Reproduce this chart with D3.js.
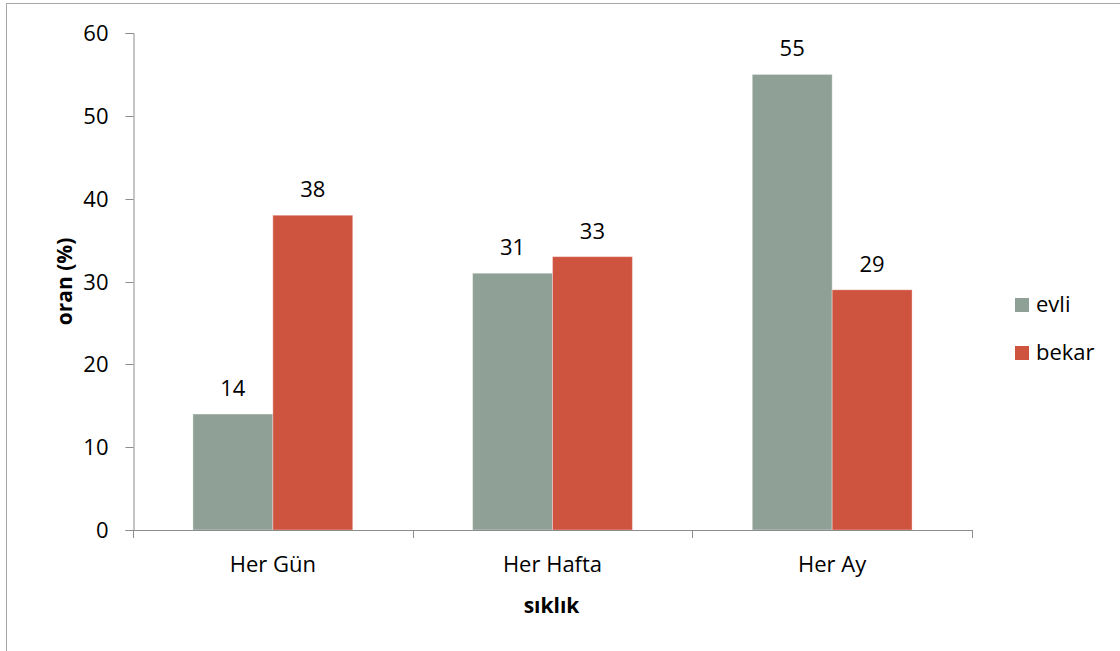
<!DOCTYPE html>
<html>
<head>
<meta charset="utf-8">
<script src="https://cdn.jsdelivr.net/npm/d3@7"></script>
<style>
  html, body { margin: 0; padding: 0; background: #fff; }
  svg { display: block; font-family: "Open Sans", "Noto Sans", sans-serif; }
</style>
</head>
<body>
<svg id="chart" width="1120" height="651"></svg>
<script>
// Frequency categories and the share (%) for each marital status
const categories = ["Her Gün", "Her Hafta", "Her Ay"];
const seriesNames = ["evli", "bekar"];
const evliValues = [14, 31, 55];
const bekarValues = [38, 33, 29];
const yTicks = [0, 10, 20, 30, 40, 50, 60];
const seriesColors = ["#8fa197", "#cf5440"];

const svg = d3.select("#chart");
const W = 1120, H = 651;
const plot = { left: 133, right: 972, top: 33, bottom: 530 };

// outer frame (only top and left edges fall inside the window)
svg.append("rect")
  .attr("x", 6.5).attr("y", 3.5)
  .attr("width", W + 20).attr("height", H + 20)
  .attr("fill", "#fff").attr("stroke", "#a6a6a6").attr("stroke-width", 1);

const rows = categories.map((c, i) => ({ category: c, evli: evliValues[i], bekar: bekarValues[i] }));

const x0 = d3.scaleBand().domain(categories).range([plot.left, plot.right]).paddingInner(0).paddingOuter(0);
const x1 = d3.scaleBand().domain(seriesNames).range([0, x0.bandwidth()]).paddingInner(0).paddingOuter(0.75);
const y = d3.scaleLinear().domain([0, 60]).range([plot.bottom, plot.top]);
const color = d3.scaleOrdinal().domain(seriesNames).range(seriesColors);

const axisColor = "#8c8c8c";

// y axis
const yAxis = svg.append("g")
  .attr("transform", `translate(${plot.left + 0.5},0)`)
  .call(d3.axisLeft(y).tickValues(yTicks).tickSize(8).tickPadding(17).tickFormat(d3.format("d")));
yAxis.select(".domain").attr("stroke", axisColor);
yAxis.selectAll(".tick line").attr("stroke", axisColor);
yAxis.selectAll(".tick text")
  .attr("font-size", 22).attr("fill", "#000")
  .attr("font-family", "Open Sans, sans-serif");
yAxis.selectAll(".tick").attr("transform", d => `translate(0,${Math.round(y(d)) + 0.5})`);

// bars
const groups = svg.append("g").selectAll("g")
  .data(rows).join("g")
  .attr("transform", d => `translate(${x0(d.category)},0)`);

groups.selectAll("rect")
  .data(d => seriesNames.map(k => ({ key: k, value: d[k] })))
  .join("rect")
  .attr("x", d => x1(d.key))
  .attr("y", d => y(d.value))
  .attr("width", x1.bandwidth())
  .attr("height", d => y(0) - y(d.value))
  .attr("fill", d => color(d.key))
  .attr("stroke", "rgba(255,255,255,0.35)")
  .attr("stroke-width", 1);

// value labels
groups.selectAll("text.val")
  .data(d => seriesNames.map(k => ({ key: k, value: d[k] })))
  .join("text")
  .attr("class", "val")
  .attr("x", d => x1(d.key) + x1.bandwidth() / 2)
  .attr("y", d => y(d.value) - 18)
  .attr("text-anchor", "middle")
  .attr("font-size", 22)
  .attr("fill", "#000")
  .text(d => d.value);

// x axis line and boundary ticks
const xAxis = svg.append("g");
xAxis.append("line")
  .attr("x1", plot.left).attr("x2", plot.right)
  .attr("y1", plot.bottom + 0.5).attr("y2", plot.bottom + 0.5)
  .attr("stroke", axisColor);
const boundaries = categories.map(c => x0(c)).concat([x0.range()[1]]);
xAxis.selectAll("line.tick")
  .data(boundaries).join("line")
  .attr("class", "tick")
  .attr("x1", d => Math.round(d) + 0.5).attr("x2", d => Math.round(d) + 0.5)
  .attr("y1", plot.bottom).attr("y2", plot.bottom + 8)
  .attr("stroke", axisColor);
xAxis.selectAll("text")
  .data(categories).join("text")
  .attr("x", d => x0(d) + x0.bandwidth() / 2)
  .attr("y", 572)
  .attr("text-anchor", "middle")
  .attr("font-size", 22)
  .attr("fill", "#000")
  .text(d => d);

// axis titles
svg.append("text")
  .attr("x", (plot.left + plot.right) / 2 - 1)
  .attr("y", 613)
  .attr("text-anchor", "middle")
  .attr("font-size", 21).attr("font-weight", "bold")
  .text("sıklık");

svg.append("text")
  .attr("transform", `translate(72,${(plot.top + plot.bottom) / 2}) rotate(-90)`)
  .attr("text-anchor", "middle")
  .attr("font-size", 21).attr("font-weight", "bold")
  .text("oran (%)");

// legend
const legend = svg.append("g").attr("transform", "translate(1015,298)");
const item = legend.selectAll("g")
  .data(seriesNames).join("g")
  .attr("transform", (d, i) => `translate(0,${i * 48})`);
item.append("rect")
  .attr("width", 14).attr("height", 14)
  .attr("fill", d => color(d));
item.append("text")
  .attr("x", 21).attr("y", 14)
  .attr("font-size", 22)
  .attr("fill", "#000")
  .text(d => d);
</script>
</body>
</html>
